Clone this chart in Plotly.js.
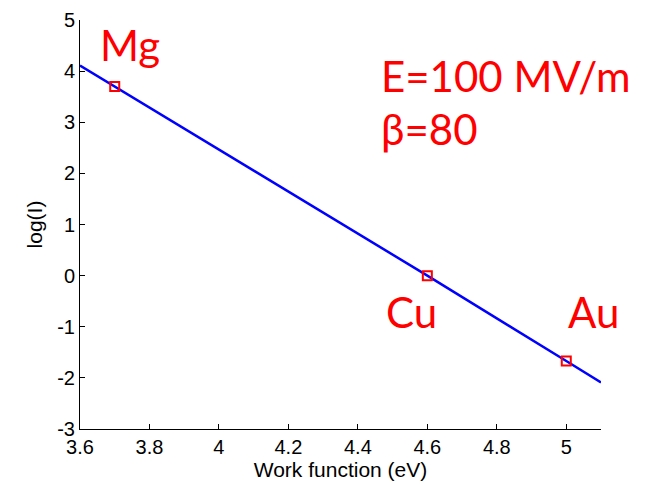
<!DOCTYPE html>
<html>
<head>
<meta charset="utf-8">
<script src="https://cdn.plot.ly/plotly-3.0.1.min.js"></script>
<style>html,body{margin:0;padding:0;background:#fff;}#chart{width:648px;height:484px;}</style>
</head>
<body>
<div id="chart"></div>
<script>
// Curve: log(I) vs work function
const workFunction = [3.6, 3.7, 4.0, 4.3, 4.6, 5.0, 5.1];
const logI = [4.11, 3.7, 2.47, 1.24, 0.0, -1.67, -2.09];
// Marked metals
const metals = ["Mg", "Cu", "Au"];
const metalPhi = [3.7, 4.6, 5.0];
const metalLogI = [3.7, 0.0, -1.67];
const xTicks = [3.6, 3.8, 4, 4.2, 4.4, 4.6, 4.8, 5];
const yTicks = [-3, -2, -1, 0, 1, 2, 3, 4, 5];
const infoLines = ["E=100 MV/m", "β=80"];

const data = [
  {x: workFunction, y: logI, mode: 'lines', line: {color: '#0000ff', width: 2.5}, hoverinfo: 'skip'},
  {x: metalPhi, y: metalLogI, text: metals, mode: 'markers',
   marker: {symbol: 'square-open', size: 9, color: '#ff0000', line: {width: 2, color: '#ff0000'}}}
];

const bigFont = {family: 'Lato, "Open Sans", sans-serif', size: 42, color: '#ff0000'};
const annotations = [
  {text: metals[0], xref: 'paper', yref: 'paper', x: 0.034, y: 0.94, xanchor: 'left', yanchor: 'middle', showarrow: false, font: bigFont},
  {text: metals[1], xref: 'paper', yref: 'paper', x: 0.583, y: 0.285, xanchor: 'left', yanchor: 'middle', showarrow: false, font: bigFont},
  {text: metals[2], xref: 'paper', yref: 'paper', x: 0.932, y: 0.285, xanchor: 'left', yanchor: 'middle', showarrow: false, font: bigFont},
  {text: infoLines[0], xref: 'paper', yref: 'paper', x: 0.574, y: 0.862, xanchor: 'left', yanchor: 'middle', showarrow: false, font: bigFont},
  {text: infoLines[1], xref: 'paper', yref: 'paper', x: 0.574, y: 0.733, xanchor: 'left', yanchor: 'middle', showarrow: false, font: bigFont}
];

const layout = {
  width: 648, height: 484,
  margin: {l: 80, r: 47, t: 20, b: 55},
  paper_bgcolor: '#fff', plot_bgcolor: '#fff',
  showlegend: false,
  font: {family: 'Arial, "Liberation Sans", sans-serif', color: '#000', size: 20},
  xaxis: {
    range: [3.6, 5.1], tickvals: xTicks, ticktext: xTicks.map(String),
    ticks: 'inside', ticklen: 5, tickcolor: '#000', showline: true, linecolor: '#000', linewidth: 1,
    showgrid: false, zeroline: false, mirror: false, tickfont: {size: 20},
    title: {text: 'Work function (eV)', font: {size: 21}, standoff: 4}
  },
  yaxis: {
    range: [-3, 5], tickvals: yTicks, ticktext: yTicks.map(String),
    ticks: 'inside', ticklen: 5, tickcolor: '#000', showline: true, linecolor: '#000', linewidth: 1,
    showgrid: false, zeroline: false, mirror: false, tickfont: {size: 20},
    title: {text: 'log(I)', font: {size: 21}, standoff: 8}
  },
  annotations: annotations
};

Plotly.newPlot('chart', data, layout, {staticPlot: true, displayModeBar: false});
</script>
</body>
</html>
